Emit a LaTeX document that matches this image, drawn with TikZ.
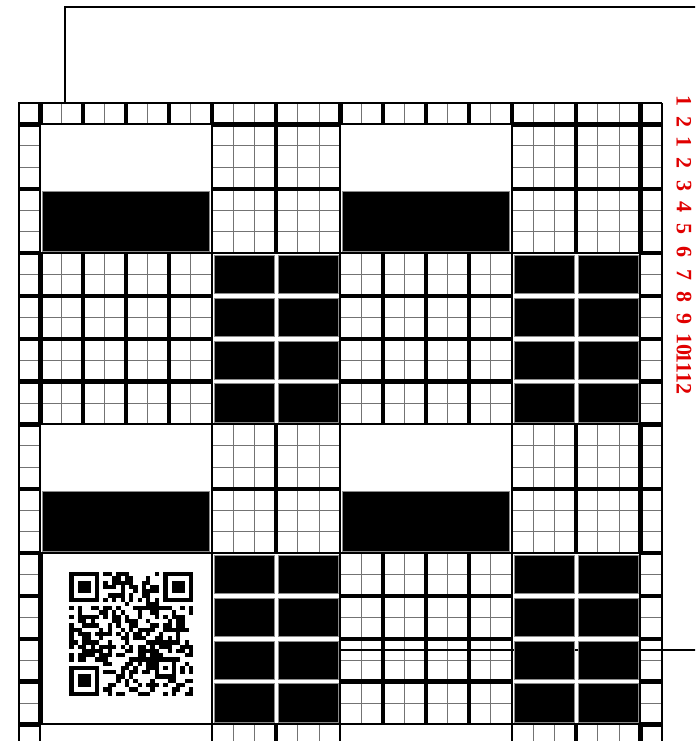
\documentclass[tikz,border=0pt]{standalone}
\usepackage{fontspec}
\setmainfont{Liberation Serif}

\begin{document}
\begin{tikzpicture}[x=21.43pt,y=-21.43pt,
    gridline/.style={black!55,line width=1pt},
    boldline/.style={black,line width=4.3pt},
    edgeline/.style={black,line width=2pt},
    tile/.style={fill=black,draw=black!45,line width=0.6pt},
    ruler/.style={text=red!88!black,rotate=-90,inner sep=0pt,font=\fontsize{22}{22}\selectfont\bfseries}]
    \useasboundingbox (-0.887,-4.806) rectangle (31.545,29.771);
    \clip (-0.887,-4.806) rectangle (31.545,29.771);
    % frame line at the top
    \draw[line width=1.8pt] (2.147,0) -- (2.147,-4.48) -- (31.6,-4.48);
    % fine lines of the border strips
    \foreach \y in {1,...,29} {
        \draw[gridline] (0,\y) -- (1,\y);
        \draw[gridline] (29,\y) -- (30,\y);
    }
    \foreach \x in {1,...,29} \draw[gridline] (\x,0) -- (\x,1);
    % 6x6 checks
    \foreach \x/\y in {9/1,23/1,9/15,23/15,9/29,23/29} {
        \foreach \k in {1,...,5} {
            \draw[gridline] (\x+\k,\y) -- (\x+\k,\y+6);
            \draw[gridline] (\x,\y+\k) -- (\x+6,\y+\k);
        }
        \draw[boldline] (\x+3,\y) -- (\x+3,\y+6);
        \draw[boldline] (\x,\y+3) -- (\x+6,\y+3);
        \draw[edgeline] (\x,\y) rectangle (\x+6,\y+6);
    }
    % 8x8 checks
    \foreach \x/\y in {1/7,15/7,15/21} {
        \foreach \k in {1,...,7} {
            \draw[gridline] (\x+\k,\y) -- (\x+\k,\y+8);
            \draw[gridline] (\x,\y+\k) -- (\x+8,\y+\k);
        }
        \foreach \k in {2,4,6} {
            \draw[boldline] (\x+\k,\y) -- (\x+\k,\y+8);
            \draw[boldline] (\x,\y+\k) -- (\x+8,\y+\k);
        }
        \draw[edgeline] (\x,\y) rectangle (\x+8,\y+8);
    }
    \draw[line width=1.2pt] (15,25.52) -- (31.6,25.52);
    % bold marks of the strips
    \foreach \y in {1,4,7,9,11,13,15,18,21,23,25,27,29} {
        \draw[boldline] (0,\y) -- (1,\y);
        \draw[boldline] (29,\y) -- (30,\y);
    }
    \foreach \x in {1,3,5,7,9,12,15,17,19,21,23,26,29} \draw[boldline] (\x,0) -- (\x,1);
    \draw[edgeline] (1,1) -- (1,29.8);
    \draw[edgeline] (29,1) -- (29,29.8);
    \draw[edgeline] (1,1) -- (29,1);
    \draw[boldline] (1,7) -- (1,15) (1,21) -- (1,29);
    \draw[boldline] (29,1) -- (29,7) (29,15) -- (29,21) (29,29) -- (29,29.8);
    \draw[boldline] (9,1) -- (15,1) (23,1) -- (29,1);
    \draw[line width=2.4pt] (0,29.8) -- (0,0) -- (30,0);
    \draw[line width=2.8pt] (30,0) -- (30,29.8);
    % wide black bars
    \foreach \x/\y in {1/1,15/1,1/15,15/15,1/29,15/29}
        \draw[tile] (\x+0.1,\y+3.1) rectangle (\x+7.9,\y+5.9);
    % black tiles
    \foreach \x/\y in {9/7,23/7,9/21,23/21}
        \foreach \i in {0,1}
            \foreach \j in {0,...,3}
                \draw[tile] (\x+3*\i+0.1,\y+2*\j+0.1) rectangle (\x+3*\i+2.9,\y+2*\j+1.9);
    % QR code
    \draw[edgeline] (1,21) rectangle (9,29);
    \draw[boldline] (1,21) -- (1,29);
    \pgfmathsetseed{2718}
    \begin{scope}[shift={(2.347,21.885)},x=4.27pt,y=-4.27pt]
        \foreach \fx/\fy in {0/0,22/0,0/22} {
            \fill (\fx,\fy) rectangle +(7,7);
            \fill[white] (\fx+1,\fy+1) rectangle +(5,5);
            \fill (\fx+2,\fy+2) rectangle +(3,3);
        }
        \fill (20,20) rectangle +(5,5);
        \fill[white] (21,21) rectangle +(3,3);
        \fill (22,22) rectangle +(1,1);
        \foreach \k in {8,10,...,20} {
            \fill (\k,6) rectangle +(1,1);
            \fill (6,\k) rectangle +(1,1);
        }
        \foreach \r in {0,...,28}
            \foreach \c in {0,...,28} {
                \pgfmathtruncatemacro\keep{!((\r<8 && \c<8) || (\r<8 && \c>20) || (\r>20 && \c<8) || (\r>19 && \r<25 && \c>19 && \c<25) || \r==6 || \c==6)}
                \pgfmathtruncatemacro\bit{random(0,1)}
                \ifnum\keep=1 \ifnum\bit=1 \fill (\c,\r) rectangle +(1,1); \fi\fi
            }
    \end{scope}
    % numbers at the right
    \foreach \t/\yy [count=\i] in {1/101,2/122,1/142,2/163,3/186,4/207,5/229,6/252,7/275,8/297,9/319,10/344,11/363,12/383}
        \node[ruler] (num\i) at (31.03,{(\yy-103)/21.43}) {\t};
\end{tikzpicture}
\end{document}
